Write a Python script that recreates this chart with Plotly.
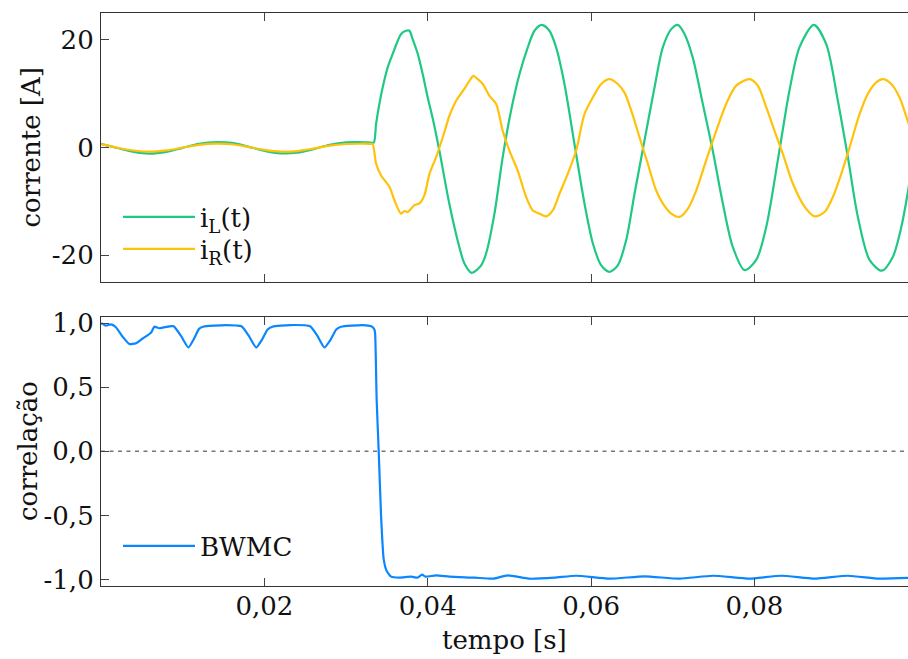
import plotly.graph_objects as go

# ---------------- data ----------------
t_iL = [0.0, 0.002, 0.004, 0.0059, 0.008, 0.010, 0.012, 0.0142, 0.016, 0.018, 0.020, 0.022, 0.024,
        0.026, 0.028, 0.030, 0.0316, 0.0330, 0.03339, 0.03368, 0.03408, 0.03449, 0.0351, 0.03571,
        0.03632, 0.03674, 0.03735, 0.03776, 0.03816, 0.03878, 0.03939, 0.0400, 0.0407, 0.04143,
        0.04265, 0.04387, 0.04448, 0.04539, 0.04654, 0.04715, 0.04817, 0.04918, 0.05021, 0.05123,
        0.05225, 0.05307, 0.05396, 0.0549, 0.05572, 0.05674, 0.05796, 0.05919, 0.06021, 0.06124,
        0.06225, 0.06327, 0.0643, 0.06532, 0.06654, 0.06777, 0.06878, 0.06981, 0.07062, 0.07144,
        0.07245, 0.07368, 0.0749, 0.07613, 0.07735, 0.07879, 0.08022, 0.08144, 0.08286, 0.08429,
        0.08551, 0.08727, 0.08879, 0.09021, 0.09144, 0.09266, 0.09409, 0.0956, 0.09695, 0.09798,
        0.09875, 0.0995]
iL = [0.68, -0.10, -0.82, -1.12, -0.80, -0.06, 0.70, 1.00, 0.85, 0.17, -0.62, -1.08, -0.95,
      -0.31, 0.50, 0.95, 1.0, 0.92, 0.9, 4.4, 8.1, 11.2, 14.9, 17.4,
      19.8, 21.1, 21.7, 21.7, 20.1, 17.4, 13.6, 9.3, 4.8, -0.6,
      -10.5, -18.5, -21.5, -23.3, -21.9, -19.7, -12.3, -1.8, 6.9, 13.6,
      18.6, 21.7, 22.8, 21.7, 18.6, 11.8, 0.7, -10.4, -17.8, -21.9,
      -23.1, -21.9, -17.2, -8.6, 1.3, 11.2, 18.6, 22.0, 22.8, 21.1,
      16.7, 8.1, -0.6, -10.4, -18.5, -22.8, -20.9, -14.8, -2.4, 10.6,
      18.6, 22.8, 19.2, 8.7, -1.8, -12.9, -20.9, -22.9, -20.3, -14.8,
      -8.6, -1.0]

t_iR = [0.0, 0.002, 0.004, 0.0059, 0.008, 0.010, 0.012, 0.0142, 0.016, 0.018, 0.020, 0.022, 0.024,
        0.026, 0.028, 0.030, 0.0316, 0.0330, 0.03326, 0.03368, 0.03429, 0.03531, 0.03592, 0.03674,
        0.03715, 0.03755, 0.03837, 0.03898, 0.03959, 0.04021, 0.04103, 0.04184, 0.04266, 0.04348,
        0.04449, 0.04511, 0.0456, 0.04612, 0.04674, 0.04756, 0.04838, 0.04918, 0.0500, 0.05102,
        0.05205, 0.05286, 0.05368, 0.0545, 0.05531, 0.05613, 0.05714, 0.05817, 0.05919, 0.06021,
        0.06124, 0.06225, 0.06327, 0.06409, 0.06491, 0.06593, 0.06694, 0.06797, 0.06878, 0.06981,
        0.07083, 0.07184, 0.07287, 0.07409, 0.07532, 0.07654, 0.07777, 0.0794, 0.08041, 0.08144,
        0.08246, 0.08348, 0.0847, 0.08613, 0.08736, 0.08858, 0.0896, 0.09063, 0.09164, 0.09287,
        0.09389, 0.09491, 0.09572, 0.09675, 0.09777, 0.09875, 0.0995]
iR = [0.62, -0.05, -0.56, -0.78, -0.55, -0.03, 0.50, 0.72, 0.60, 0.12, -0.43, -0.75, -0.66,
      -0.20, 0.35, 0.65, 0.70, 0.68, 0.65, -3.0, -5.2, -7.3, -9.8, -12.3,
      -11.8, -12.0, -10.7, -10.4, -8.9, -4.9, -1.8, 1.9, 5.9, 8.7,
      10.9, 12.4, 13.3, 12.7, 11.8, 9.6, 8.1, 3.1, -0.6, -4.3,
      -9.2, -11.7, -12.3, -12.8, -11.7, -8.6, -4.9, -0.6, 6.2, 9.3,
      11.8, 12.7, 11.8, 10.2, 6.9, 1.9, -3.0, -8.0, -10.4, -12.3,
      -12.9, -11.4, -8.0, -2.4, 3.1, 8.1, 11.5, 12.7, 11.5, 7.5,
      3.1, -1.2, -6.7, -11.0, -12.8, -12.0, -9.2, -4.9, 0.0, 6.2,
      10.0, 12.1, 12.7, 11.8, 9.3, 5.0, 1.5]

t_corr = [0.0, 0.0002, 0.0006, 0.0012, 0.0018, 0.00265, 0.00347, 0.00429, 0.00509, 0.00612, 0.00653,
          0.00714, 0.00857, 0.0089, 0.0098, 0.0107, 0.0114, 0.0120, 0.0125, 0.0153, 0.0172, 0.0181,
          0.0190, 0.0197, 0.0204, 0.0210, 0.0231, 0.0256, 0.0265, 0.02735, 0.0281, 0.0288, 0.0294,
          0.0320, 0.0331, 0.03347, 0.03356, 0.03375, 0.0340, 0.03429, 0.03461, 0.03498, 0.03552,
          0.03653, 0.03797, 0.03877, 0.03931, 0.03972, 0.04103, 0.04266, 0.04572, 0.0480, 0.0498,
          0.05245, 0.05552, 0.05817, 0.06225, 0.06654, 0.07083, 0.0749, 0.0794, 0.08328, 0.08736,
          0.09144, 0.09532, 0.0995]
corr = [0.995, 0.995, 0.98, 0.99, 0.97, 0.894, 0.837, 0.843, 0.88, 0.925, 0.972,
        0.96, 0.977, 0.975, 0.9, 0.81, 0.88, 0.955, 0.972, 0.985, 0.975, 0.9,
        0.81, 0.87, 0.95, 0.972, 0.985, 0.975, 0.9, 0.81, 0.87, 0.95, 0.972,
        0.985, 0.975, 0.95, 0.92, 0.40, 0.0, -0.505, -0.842, -0.933, -0.977,
        -0.984, -0.977, -0.984, -0.961, -0.977, -0.967, -0.977, -0.985, -0.993, -0.967,
        -0.993, -0.985, -0.97, -0.993, -0.975, -0.993, -0.97, -0.993, -0.97, -0.993,
        -0.97, -0.993, -0.985]

x_tickvals = [0.02, 0.04, 0.06, 0.08]
x_ticktext = ["0,02", "0,04", "0,06", "0,08"]
y1_tickvals = [-20, 0, 20]
y1_ticktext = ["-20", "0", "20"]
y2_tickvals = [-1.0, -0.5, 0.0, 0.5, 1.0]
y2_ticktext = ["-1,0", "-0,5", "0,0", "0,5", "1,0"]

GREEN = "#1fc883"
YELLOW = "#ffc20a"
BLUE = "#0a86ff"
FONT = "DejaVu Serif"
FS = 26

fig = go.Figure()
fig.add_trace(go.Scatter(x=t_iL, y=iL, mode="lines", name="i<sub>L</sub>(t)",
                         line=dict(color=GREEN, width=2.2, shape="spline", smoothing=0.8),
                         xaxis="x", yaxis="y", legend="legend"))
fig.add_trace(go.Scatter(x=t_iR, y=iR, mode="lines", name="i<sub>R</sub>(t)",
                         line=dict(color=YELLOW, width=2.2, shape="spline", smoothing=0.8),
                         xaxis="x", yaxis="y", legend="legend2"))
fig.add_trace(go.Scatter(x=t_corr, y=corr, mode="lines", name="BWMC",
                         line=dict(color=BLUE, width=2.2, shape="spline", smoothing=0.5),
                         xaxis="x2", yaxis="y2", legend="legend3"))

fig.add_shape(type="line", xref="x2 domain", yref="y2", x0=0, x1=1, y0=0, y1=0,
              line=dict(color="#777777", width=1.5, dash="4px,4.5px"), layer="below")

axis_common = dict(showline=True, linecolor="#333333", linewidth=1.2, ticks="inside",
                   ticklen=8, tickwidth=1.2, tickcolor="#444444", showgrid=False,
                   zeroline=False, tickfont=dict(family=FONT, size=FS, color="#111111"))

PX_L, PX_R, PX_T, PX_B = 101, 908, 13, 586
H = 659
plot_h = H - PX_T - (H - PX_B)

def py(y):
    return (PX_B - y) / plot_h

def px(x):
    return (x - PX_L) / (PX_R - PX_L)

fig.update_layout(
    width=908, height=659, autosize=False,
    margin=dict(l=PX_L, r=908 - PX_R, t=PX_T, b=H - PX_B, pad=0),
    paper_bgcolor="white", plot_bgcolor="white",
    font=dict(family=FONT, size=FS, color="#111111"),
    xaxis=dict(domain=[0, 1], anchor="y", range=[0, 0.0988], tickvals=x_tickvals,
               showticklabels=False, mirror="ticks", **axis_common),
    yaxis=dict(domain=[py(282), 1], anchor="x", range=[-25, 25], tickvals=y1_tickvals,
               ticktext=y1_ticktext, ticklabelstandoff=1, **axis_common),
    xaxis2=dict(domain=[0, 1], anchor="y2", range=[0, 0.0988], tickvals=x_tickvals,
                ticktext=x_ticktext, mirror="ticks", ticklabelstandoff=-3, **axis_common),
    yaxis2=dict(domain=[0, py(316.7)], anchor="x2", range=[-1.05, 1.05], tickvals=y2_tickvals,
                ticktext=y2_ticktext, ticklabelstandoff=1, **axis_common),
    legend=dict(x=px(118), y=py(217), xanchor="left", yanchor="middle", itemwidth=72,
                bgcolor="rgba(0,0,0,0)", font=dict(family=FONT, size=FS)),
    legend2=dict(x=px(118), y=py(249), xanchor="left", yanchor="middle", itemwidth=72,
                 bgcolor="rgba(0,0,0,0)", font=dict(family=FONT, size=FS)),
    legend3=dict(x=px(118), y=py(546), xanchor="left", yanchor="middle", itemwidth=72,
                 bgcolor="rgba(0,0,0,0)", font=dict(family=FONT, size=FS)),
    annotations=[
        dict(text="corrente [A]", xref="paper", yref="paper", x=px(30), y=py(147.5),
             textangle=-90, showarrow=False, xanchor="center", yanchor="middle",
             font=dict(family=FONT, size=FS)),
        dict(text="correlação", xref="paper", yref="paper", x=px(28), y=py(451),
             textangle=-90, showarrow=False, xanchor="center", yanchor="middle",
             font=dict(family=FONT, size=FS)),
        dict(text="tempo [s]", xref="paper", yref="paper", x=px(504.5), y=py(640),
             showarrow=False, xanchor="center", yanchor="middle",
             font=dict(family=FONT, size=FS)),
    ],
    showlegend=True,
)

fig.write_html("out.html")
